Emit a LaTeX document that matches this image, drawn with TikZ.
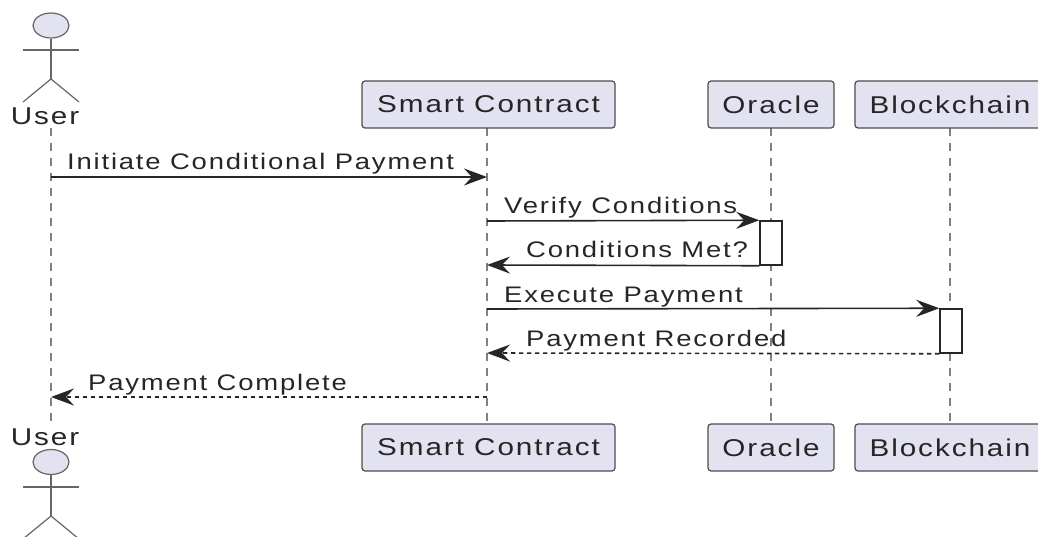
\documentclass[tikz,border=0pt]{standalone}
\usepackage{fontspec}
\setmainfont[FakeStretch=1.22,LetterSpace=8]{Liberation Sans}
\usetikzlibrary{arrows.meta, shapes.geometric}
\definecolor{partfill}{RGB}{226,226,240}
\tikzset{
  partbox/.style={draw=black!70, fill=partfill, rounded corners=3, line width=1.2, minimum height=47, inner sep=0},
  headnode/.style={draw=black!60, fill=partfill, ellipse, line width=1.2, minimum width=36, minimum height=25, inner sep=0},
  lifeline/.style={draw=black!50, line width=1.6, dash pattern=on 8 off 7},
  msg/.style={draw=black!85, line width=1.6, -{Stealth[length=23, width=17, inset=8]}},
  dashmsg/.style={msg, dash pattern=on 4.5 off 3.5},
  actbox/.style={draw=black!85, fill=white, line width=1.5, inner sep=0},
  limb/.style={draw=black!60, line width=1.2},
  txt/.style={font=\fontsize{22.5}{26}\selectfont, text=black!85, inner sep=0},
  boxtxt/.style={font=\fontsize{24.3}{28}\selectfont, text=black!85, inner sep=0}
}
\begin{document}
\begin{tikzpicture}[x=1pt, y=-1pt]
      \useasboundingbox (0,0) rectangle (1038,537);
      % lifelines
      \coordinate (ut) at (51,128);
      \coordinate (ub) at (51,426);
      \coordinate (st) at (487,128);
      \coordinate (sb) at (487,424);
      \coordinate (ot) at (771,128);
      \coordinate (ob) at (771,424);
      \coordinate (bt) at (950,128);
      \coordinate (bb) at (950,424);
      \draw[lifeline] (ut) -- (ub);
      \draw[lifeline] (st) -- (sb);
      \draw[lifeline] (ot) -- (ob);
      \draw[lifeline] (bt) -- (bb);
      % participants
      \node[partbox, minimum width=253] (sc1) at (488.5,104.5){};
      \node[partbox, minimum width=126] (or1) at (771,104.5){};
      \node[partbox, minimum width=190] (bc1) at (950,104.5){};
      \node[partbox, minimum width=253] (sc2) at (488.5,447.5){};
      \node[partbox, minimum width=126] (or2) at (771,447.5){};
      \node[partbox, minimum width=190] (bc2) at (950,447.5){};
      \node[boxtxt] (sct1) at (sc1){Smart Contract};
      \node[boxtxt] (ort1) at (or1){Oracle};
      \node[boxtxt] (bct1) at (bc1){Blockchain};
      \node[boxtxt] (sct2) at (sc2){Smart Contract};
      \node[boxtxt] (ort2) at (or2){Oracle};
      \node[boxtxt] (bct2) at (bc2){Blockchain};
      % top actor
      \node[boxtxt] (usr1) at (45,116.5){User};
      \node[headnode] (head1) at (51,25.5){};
      \coordinate (hip1) at (51,79);
      \coordinate (al1) at (23,50);
      \coordinate (ar1) at (79,50);
      \coordinate (ll1) at (23,102);
      \coordinate (lr1) at (79,102);
      \draw[limb] (head1) -- (hip1);
      \draw[limb] (al1) -- (ar1);
      \draw[limb] (ll1) -- (hip1) -- (lr1);
      % bottom actor
      \node[boxtxt] (usr2) at (45,437){User};
      \node[headnode] (head2) at (51,462){};
      \coordinate (hip2) at (51,516);
      \coordinate (al2) at (23,487);
      \coordinate (ar2) at (79,487);
      \coordinate (ll2) at (23,539);
      \coordinate (lr2) at (79,539);
      \draw[limb] (head2) -- (hip2);
      \draw[limb] (al2) -- (ar2);
      \draw[limb] (ll2) -- (hip2) -- (lr2);
      % activations
      \node[actbox, minimum width=22, minimum height=44] (act1) at (771,243){};
      \node[actbox, minimum width=22, minimum height=44] (act2) at (951,331){};
      % messages
      \coordinate (m1a) at (51,177);
      \coordinate (m1b) at (487,177);
      \coordinate (m2a) at (487,221);
      \coordinate (m3b) at (487,265);
      \coordinate (m4a) at (487,309);
      \coordinate (m5b) at (487,353);
      \coordinate (m6a) at (487,397);
      \coordinate (m6b) at (51,397);
      \draw[msg] (m1a) -- (m1b);
      \draw[msg] (m2a) -- (act1.north west);
      \draw[msg] (act1.south west) -- (m3b);
      \draw[msg] (m4a) -- (act2.north west);
      \draw[dashmsg] (act2.south west) -- (m5b);
      \draw[dashmsg] (m6a) -- (m6b);
      \node[txt, anchor=base west] (t1) at (67,170){Initiate Conditional Payment};
      \node[txt, anchor=base west] (t2) at (504,214){Verify Conditions};
      \node[txt, anchor=base west] (t3) at (526,258){Conditions Met?};
      \node[txt, anchor=base west] (t4) at (504,302){Execute Payment};
      \node[txt, anchor=base west] (t5) at (526,346){Payment Recorded};
      \node[txt, anchor=base west] (t6) at (88,390){Payment Complete};
    \end{tikzpicture}
\end{document}
